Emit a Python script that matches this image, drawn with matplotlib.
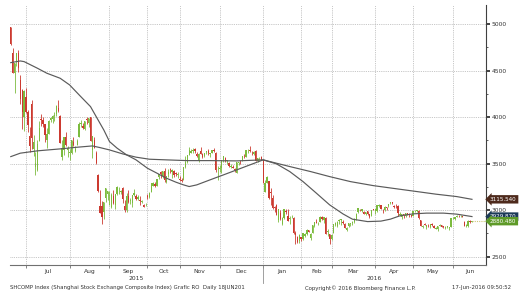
import matplotlib
matplotlib.use("Agg")
import matplotlib.pyplot as plt
import matplotlib.transforms as mtransforms
import numpy as np

# ---------------- data (SHCOMP daily) ----------------
dates = [
    "2015-06-18","2015-06-19","2015-06-23","2015-06-24","2015-06-25","2015-06-26","2015-06-29","2015-06-30",
    "2015-07-01","2015-07-02","2015-07-03","2015-07-06","2015-07-07","2015-07-08","2015-07-09","2015-07-10",
    "2015-07-13","2015-07-14","2015-07-15","2015-07-16","2015-07-17","2015-07-20","2015-07-21","2015-07-22",
    "2015-07-23","2015-07-24","2015-07-27","2015-07-28","2015-07-29","2015-07-30","2015-07-31",
    "2015-08-03","2015-08-04","2015-08-05","2015-08-06","2015-08-07","2015-08-10","2015-08-11","2015-08-12",
    "2015-08-13","2015-08-14","2015-08-17","2015-08-18","2015-08-19","2015-08-20","2015-08-21","2015-08-24",
    "2015-08-25","2015-08-26","2015-08-27","2015-08-28","2015-08-31",
    "2015-09-01","2015-09-02","2015-09-07","2015-09-08","2015-09-09","2015-09-10","2015-09-11","2015-09-14",
    "2015-09-15","2015-09-16","2015-09-17","2015-09-18","2015-09-21","2015-09-22","2015-09-23","2015-09-24",
    "2015-09-25","2015-09-28","2015-09-29","2015-09-30",
    "2015-10-08","2015-10-09","2015-10-12","2015-10-13","2015-10-14","2015-10-15","2015-10-16","2015-10-19",
    "2015-10-20","2015-10-21","2015-10-22","2015-10-23","2015-10-26","2015-10-27","2015-10-28","2015-10-29",
    "2015-10-30",
    "2015-11-02","2015-11-03","2015-11-04","2015-11-05","2015-11-06","2015-11-09","2015-11-10","2015-11-11",
    "2015-11-12","2015-11-13","2015-11-16","2015-11-17","2015-11-18","2015-11-19","2015-11-20","2015-11-23",
    "2015-11-24","2015-11-25","2015-11-26","2015-11-27","2015-11-30",
    "2015-12-01","2015-12-02","2015-12-03","2015-12-04","2015-12-07","2015-12-08","2015-12-09","2015-12-10",
    "2015-12-11","2015-12-14","2015-12-15","2015-12-16","2015-12-17","2015-12-18","2015-12-21","2015-12-22",
    "2015-12-23","2015-12-24","2015-12-25","2015-12-28","2015-12-29","2015-12-30","2015-12-31",
    "2016-01-04","2016-01-05","2016-01-06","2016-01-07","2016-01-08","2016-01-11","2016-01-12","2016-01-13",
    "2016-01-14","2016-01-15","2016-01-18","2016-01-19","2016-01-20","2016-01-21","2016-01-22","2016-01-25",
    "2016-01-26","2016-01-27","2016-01-28","2016-01-29",
    "2016-02-01","2016-02-02","2016-02-03","2016-02-04","2016-02-05","2016-02-15","2016-02-16","2016-02-17",
    "2016-02-18","2016-02-19","2016-02-22","2016-02-23","2016-02-24","2016-02-25","2016-02-26","2016-02-29",
    "2016-03-01","2016-03-02","2016-03-03","2016-03-04","2016-03-07","2016-03-08","2016-03-09","2016-03-10",
    "2016-03-11","2016-03-14","2016-03-15","2016-03-16","2016-03-17","2016-03-18","2016-03-21","2016-03-22",
    "2016-03-23","2016-03-24","2016-03-25","2016-03-28","2016-03-29","2016-03-30","2016-03-31",
    "2016-04-01","2016-04-05","2016-04-06","2016-04-07","2016-04-08","2016-04-11","2016-04-12","2016-04-13",
    "2016-04-14","2016-04-15","2016-04-18","2016-04-19","2016-04-20","2016-04-21","2016-04-22","2016-04-25",
    "2016-04-26","2016-04-27","2016-04-28","2016-04-29",
    "2016-05-03","2016-05-04","2016-05-05","2016-05-06","2016-05-09","2016-05-10","2016-05-11","2016-05-12",
    "2016-05-13","2016-05-16","2016-05-17","2016-05-18","2016-05-19","2016-05-20","2016-05-23","2016-05-24",
    "2016-05-25","2016-05-26","2016-05-27","2016-05-30","2016-05-31",
    "2016-06-01","2016-06-02","2016-06-03","2016-06-06","2016-06-07","2016-06-08","2016-06-13","2016-06-14",
    "2016-06-15","2016-06-16","2016-06-17",
]

opens = [
    4967,4689,4471,4604,4689,4399,4289,4006,
    4214,4059,3793,4146,3654,3467,3433,3740,3976,3971,3924,3749,3822,3965,3975,4007,4030,4097,4008,3573,3648,3790,3651,
    3614,3613,3730,3631,3697,3786,3928,3907,3868,3979,3938,3999,3647,3754,3609,3373,3042,3041,2979,3125,3174,
    3157,3028,3149,3054,3176,3192,3190,3237,3041,2996,3150,3097,3078,3162,3148,3121,3113,3092,3055,3052,
    3144,3138,3193,3262,3278,3260,3357,3409,3370,3425,3307,3393,3438,3408,3416,3395,3373,
    3337,3324,3325,3459,3514,3588,3617,3639,3656,3600,3523,3639,3606,3577,3626,3631,3602,3614,3649,3616,3438,
    3441,3450,3530,3558,3526,3510,3459,3460,3441,3403,3508,3520,3531,3579,3574,3643,3648,3614,3605,3637,3528,3566,3570,
    3536,3196,3291,3309,3195,3131,3023,3056,2890,2970,2852,2912,2986,2935,2901,2935,2916,2753,2708,2663,
    2714,2688,2716,2740,2783,2695,2757,2829,2876,2860,2869,2926,2892,2919,2765,2740,
    2685,2753,2838,2824,2877,2894,2873,2854,2787,2830,2846,2863,2872,2901,2974,3004,2987,2979,2957,2991,2956,2940,3006,
    2995,2988,3043,3050,2987,2997,3030,3047,3076,3081,3048,3049,3040,2952,2924,2954,2940,2966,2954,2939,
    2939,2986,2987,2995,2896,2816,2846,2817,2833,2815,2853,2827,2801,2792,2828,2842,2825,2811,2822,2812,2820,
    2911,2903,2925,2937,2935,2931,2875,2827,2828,2881,2875,
]
highs = [
    4967,4744,4577,4691,4720,4456,4297,4287,
    4318,4081,3894,4185,3809,3627,3749,3959,4030,4000,3929,3880,3965,4000,4019,4060,4132,4184,4028,3757,3790,3836,3685,
    3655,3756,3782,3686,3765,3943,3970,3940,3955,4000,3994,4006,3799,3787,3640,3388,3214,3099,3084,3233,3208,
    3201,3182,3217,3174,3256,3243,3213,3247,3104,3183,3218,3125,3157,3226,3172,3161,3146,3112,3067,3074,
    3172,3199,3294,3301,3303,3338,3393,3418,3425,3448,3369,3437,3457,3441,3427,3410,3412,
    3363,3346,3459,3585,3596,3678,3657,3665,3667,3626,3609,3678,3615,3618,3640,3654,3617,3647,3668,3621,3470,
    3483,3540,3585,3568,3543,3518,3496,3489,3455,3521,3522,3537,3583,3601,3642,3652,3684,3634,3636,3641,3563,3573,3580,
    3538,3328,3362,3309,3235,3166,3044,3068,3011,3001,2926,3008,3016,3011,2936,2951,2924,2773,2725,2739,
    2715,2749,2751,2793,2790,2756,2837,2868,2904,2872,2933,2933,2928,2924,2794,2740,
    2739,2850,2874,2877,2904,2902,2888,2863,2813,2860,2865,2880,2911,2972,3022,3016,3011,2990,2981,2994,2963,3000,3014,
    3010,3054,3061,3059,3013,3041,3034,3068,3086,3087,3056,3062,3052,2982,2960,2954,2966,2971,2971,2946,
    2993,2998,3001,2999,2898,2840,2862,2839,2848,2850,2856,2837,2819,2826,2848,2842,2831,2824,2829,2823,2917,
    2929,2926,2944,2943,2945,2939,2878,2848,2891,2888,2885,
]
lows = [
    4780,4476,4264,4552,4483,4139,3875,3847,
    4043,3845,3629,3653,3585,3373,3421,3741,3904,3894,3734,3672,3820,3942,3938,3958,4017,4057,3723,3537,3593,3693,3566,
    3537,3600,3685,3623,3697,3781,3891,3871,3857,3927,3890,3743,3558,3663,3491,3192,2965,2850,2906,3085,3109,
    3053,3019,3066,3011,3165,3178,3171,3074,2983,2979,3073,3070,3038,3148,3107,3105,3051,3071,3028,3039,
    3117,3125,3192,3262,3253,3259,3333,3342,3350,3297,3286,3361,3395,3347,3360,3365,3343,
    3309,3302,3324,3449,3508,3588,3611,3617,3617,3568,3519,3598,3563,3568,3601,3596,3570,3609,3629,3411,3328,
    3413,3400,3513,3513,3496,3459,3453,3452,3413,3399,3489,3495,3525,3563,3570,3617,3626,3591,3597,3532,3518,3538,3538,
    3295,3189,3288,3115,3056,3016,2979,2949,2867,2891,2844,2902,2961,2880,2851,2919,2742,2638,2650,2641,
    2672,2682,2705,2737,2759,2682,2755,2818,2862,2840,2869,2893,2857,2738,2725,2638,
    2673,2751,2827,2822,2849,2840,2846,2805,2772,2823,2827,2843,2859,2897,2965,2987,2981,2955,2951,2950,2914,2938,2996,
    2963,2982,3029,3008,2969,2994,3002,3038,3062,3068,3026,3027,2931,2935,2908,2919,2923,2944,2924,2925,
    2931,2980,2978,2907,2831,2807,2837,2801,2819,2806,2831,2807,2800,2780,2825,2815,2812,2797,2808,2790,2820,
    2904,2897,2924,2924,2930,2920,2824,2823,2821,2866,2870,
]
closes = [
    4785,4478,4577,4691,4527,4192,4053,4277,
    4053,3913,3687,3776,3728,3507,3710,3878,3970,3924,3805,3823,3958,3992,4017,4027,4124,4070,3726,3663,3789,3705,3664,
    3622,3756,3695,3661,3744,3928,3928,3887,3955,3965,3993,3748,3794,3664,3508,3210,2965,2927,3084,3232,3206,
    3166,3160,3080,3170,3243,3197,3200,3114,3005,3152,3086,3097,3157,3186,3116,3143,3093,3100,3038,3053,
    3143,3183,3288,3293,3263,3338,3391,3386,3425,3320,3369,3412,3430,3434,3375,3387,3383,
    3325,3316,3459,3522,3590,3646,3640,3650,3632,3580,3607,3604,3568,3618,3630,3610,3616,3647,3635,3436,3445,
    3456,3537,3585,3524,3536,3470,3472,3455,3435,3520,3510,3516,3580,3578,3642,3651,3636,3612,3627,3533,3563,3572,3539,
    3296,3287,3361,3125,3186,3017,3022,2949,3007,2900,2913,3008,2976,2880,2916,2938,2749,2735,2656,2737,
    2689,2749,2739,2781,2763,2746,2836,2867,2863,2860,2927,2903,2928,2741,2767,2688,
    2733,2849,2859,2874,2897,2901,2862,2805,2810,2859,2864,2870,2904,2955,3018,2999,3009,2960,2979,2957,2920,3000,3004,
    3009,3053,3050,3009,2985,3034,3023,3066,3082,3078,3034,3042,2972,2953,2959,2946,2964,2953,2945,2938,
    2992,2991,2997,2913,2832,2832,2837,2835,2827,2850,2843,2807,2806,2825,2843,2821,2815,2822,2822,2822,2917,
    2913,2925,2938,2934,2936,2927,2833,2842,2887,2873,2880.48,
]

# moving averages
ma_short_dates = ["2015-06-18","2015-06-26","2015-06-30","2015-07-09","2015-07-16","2015-07-27","2015-08-03",
                  "2015-08-10","2015-08-18","2015-08-21","2015-08-27","2015-09-01","2015-09-09","2015-09-16",
                  "2015-09-23","2015-10-08","2015-10-15","2015-10-22","2015-10-29","2015-11-04","2015-11-09",
                  "2015-11-13","2015-11-24","2015-12-03","2015-12-14","2015-12-23","2016-01-04","2016-01-13",
                  "2016-01-22","2016-02-02","2016-02-18","2016-02-29","2016-03-09","2016-03-16","2016-03-28",
                  "2016-04-07","2016-04-14","2016-04-21","2016-05-03","2016-05-12","2016-05-25","2016-06-03",
                  "2016-06-17"]
ma_short_vals = [4586,4604,4597,4526,4472,4418,4346,4239,4113,4005,3862,3737,3666,3594,3540,3450,3397,3343,
                 3300,3271,3253,3271,3325,3378,3432,3486,3540,3497,3414,3306,3182,3056,2959,2902,2876,2881,
                 2902,2938,2959,2967,2967,2956,2930]

ma_long_dates = ["2015-06-18","2015-06-26","2015-07-09","2015-07-27","2015-08-07","2015-08-19","2015-08-25",
                 "2015-09-01","2015-09-14","2015-09-23","2015-10-09","2015-10-22","2015-11-06","2015-11-24",
                 "2015-12-14","2016-01-04","2016-01-13","2016-01-22","2016-02-15","2016-02-29","2016-03-15",
                 "2016-03-31","2016-04-15","2016-05-05","2016-05-19","2016-06-03","2016-06-17"]
ma_long_vals = [3575,3612,3637,3658,3676,3690,3672,3647,3604,3569,3547,3540,3532,3532,3529,3540,3504,3468,
                3414,3360,3306,3263,3235,3199,3171,3145,3115.54]

tag_values = [2930.0, 3115.54, 2880.48]           # short MA, long MA, last price
tag_texts = ["2929.870", "3115.540", "2880.480"]
tag_colors = ["#1c3a58", "#4e2a1c", "#5e9a28"]

month_labels = ["Jul", "Aug", "Sep", "Oct", "Nov", "Dec", "Jan", "Feb", "Mar", "Apr", "May", "Jun"]
year_labels = ["2015", "2016"]
y_ticks = [2500, 3000, 3500, 4000, 4500, 5000]

footer_left = "SHCOMP Index (Shanghai Stock Exchange Composite Index) Grafic RO  Daily 18JUN201"
footer_mid = "Copyright\u00a9 2016 Bloomberg Finance L.P."
footer_right = "17-Jun-2016 09:50:52"

# ---------------- drawing ----------------
plt.rcParams["font.family"] = ["DejaVu Sans"]
FS = 4.3
W, H = 520, 292
fig = plt.figure(figsize=(W / 100, H / 100), dpi=100)
fig.patch.set_facecolor("white")
ax = fig.add_axes([10 / W, (H - 265) / H, (486 - 10) / W, (265 - 5) / H])

pos = {d: i for i, d in enumerate(dates)}
x = np.arange(len(dates))
o = np.array(opens, float); h = np.array(highs, float)
l = np.array(lows, float); c = np.array(closes, float)
up = c >= o
col = np.where(up, "#7cbb3e", "#cc3a30")

x_left, x_right = -0.42, 250.4
ax.set_xlim(x_left, x_right)
ax.set_ylim(2409, 5206)

# month boundaries
months = [d[:7] for d in dates]
starts = [i for i in range(1, len(dates)) if months[i] != months[i - 1]]
ends = starts[1:] + [x_right]
mids = [(s + e) / 2 for s, e in zip(starts, ends)]

# grid
for s in starts:
    ax.axvline(s, color="#b4b4b4", lw=0.6, ls=(0, (1, 1.2)), zorder=0)
for yv in y_ticks:
    ax.axhline(yv, color="#b4b4b4", lw=0.6, ls=(0, (1, 1.2)), zorder=0)

# candles
ax.vlines(x, l, h, colors=col, lw=0.6, zorder=2)
body_lo = np.minimum(o, c)
body_h = np.maximum(np.abs(c - o), 6)
ax.bar(x, body_h, bottom=body_lo, width=0.7, color=col, linewidth=0, zorder=3)

# moving averages
ax.plot([pos[d] for d in ma_long_dates], ma_long_vals, color="#5a5a5a", lw=0.85, zorder=4,
        solid_joinstyle="round")
ax.plot([pos[d] for d in ma_short_dates], ma_short_vals, color="#5a5a5a", lw=0.85, zorder=4,
        solid_joinstyle="round")

# last-price dotted line
ax.plot([x[-1], x_right], [c[-1], c[-1]], color="#cfc77a", lw=0.8, ls=(0, (1, 1)), zorder=4, clip_on=False)

# axes styling
for sp in ["top", "left"]:
    ax.spines[sp].set_visible(False)
ax.spines["right"].set_color("#404040")
ax.spines["right"].set_linewidth(0.8)
ax.spines["bottom"].set_color("#707070")
ax.spines["bottom"].set_linewidth(0.8)

ax.yaxis.tick_right()
ax.set_yticks(y_ticks)
ax.set_yticklabels([str(v) for v in y_ticks])
ax.set_yticks([v + 250 for v in y_ticks[:-1]], minor=True)
ax.tick_params(axis="y", which="major", length=3, width=1.2, color="#222222", labelsize=FS,
               labelcolor="#333333", pad=1)
ax.tick_params(axis="y", which="minor", length=1.5, width=0.6, color="#444444")

ax.set_xticks(starts)
ax.set_xticklabels([""] * len(starts))
ax.set_xticks(mids, minor=True)
ax.set_xticklabels(month_labels, minor=True)
ax.tick_params(axis="x", which="major", length=2.5, width=0.6, color="#707070")
ax.tick_params(axis="x", which="minor", length=0, labelsize=FS, labelcolor="#333333", pad=3)

# year separator and year labels
trans = mtransforms.blended_transform_factory(ax.transData, ax.transAxes)
ysep = starts[month_labels.index("Jan")]
ax.plot([ysep, ysep], [0, -18 / 260], transform=trans, color="#909090", lw=0.6, clip_on=False)
ax.text((x_left + ysep) / 2, -14 / 260, year_labels[0], transform=trans, ha="center", va="center",
        fontsize=FS, color="#333333")
ax.text((ysep + x_right) / 2, -14 / 260, year_labels[1], transform=trans, ha="center", va="center",
        fontsize=FS, color="#333333")

# value tags on the right
for v, t, fc in zip(tag_values, tag_texts, tag_colors):
    ax.annotate(t, xy=(1, v), xycoords=("axes fraction", "data"), xytext=(4, 0),
                textcoords="offset pixels", ha="left", va="center", fontsize=4.1, color="white",
                annotation_clip=False, zorder=6,
                bbox=dict(boxstyle="larrow,pad=0.3", fc=fc, ec=fc, lw=0))

# footer
fy = 1 - 288 / H
fig.text(10 / W, fy, footer_left, fontsize=3.9, color="#333333", va="center", ha="left")
fig.text(305 / W, fy, footer_mid, fontsize=3.9, color="#333333", va="center", ha="left")
fig.text(452 / W, fy, footer_right, fontsize=3.9, color="#333333", va="center", ha="left")

fig.savefig("out.png", dpi=100, facecolor="white")
